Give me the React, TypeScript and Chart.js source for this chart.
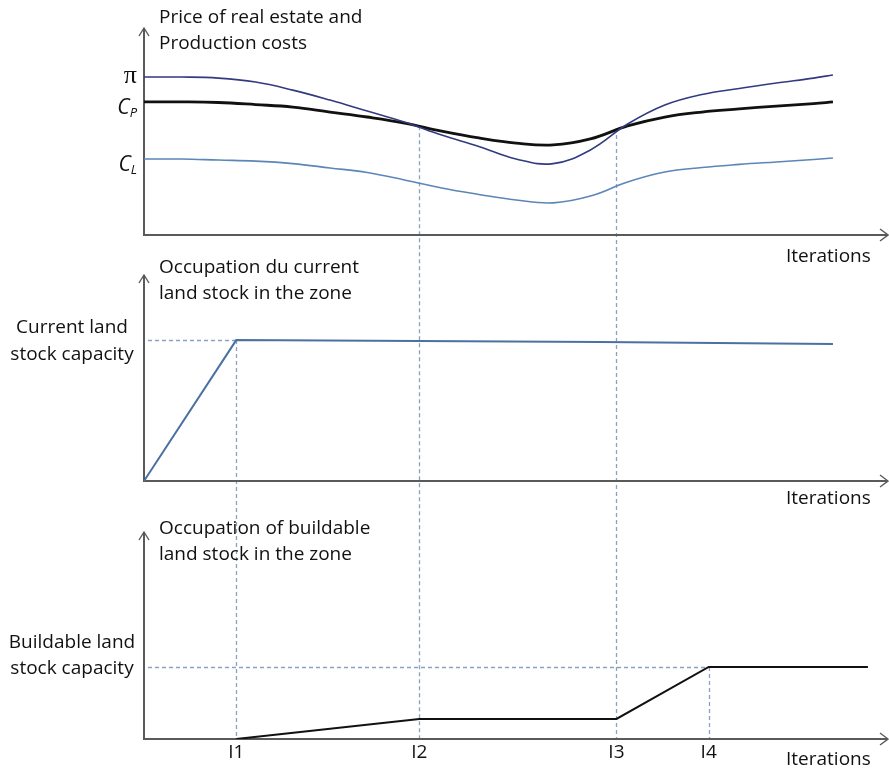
import React, { useEffect, useRef } from "react";
import { Chart, registerables } from "chart.js";
Chart.register(...registerables);

// x values: position along the "Iterations" axis (0–100)
const iterationLabels = ["I1", "I2", "I3", "I4"];
const iterationX = [12.4, 37.0, 63.5, 75.9];

// Panel 1: price of real estate (π), production cost (C_P), land cost (C_L)
const priceX = [0, 5, 10, 15, 20, 25, 30, 35, 40, 45, 50, 55, 60, 65, 70, 75, 80, 85, 90, 92.6];
const piY = [76.3, 76.3, 75.8, 73.9, 70.0, 65.2, 59.9, 54.6, 48.3, 42.8, 36.7, 34.5, 41.1, 53.6, 62.8, 67.9, 70.8, 73.4, 75.8, 77.3];
const cpY = [64.3, 64.3, 64.0, 63.0, 61.8, 59.4, 57.0, 54.1, 50.2, 46.9, 44.4, 43.5, 46.4, 52.7, 57.0, 59.4, 60.9, 62.3, 63.5, 64.3];
const clY = [36.7, 36.7, 36.2, 35.7, 34.5, 32.4, 30.2, 26.6, 22.7, 19.6, 16.9, 15.5, 18.8, 25.6, 30.4, 32.6, 34.1, 35.3, 36.5, 37.2];
const crossingValues = [52.5, 51.7]; // π = C_P at I2 and I3

// Panel 2: occupation of current land stock
const currentX = [0, 12.4, 61.3, 92.6];
const currentY = [0, 68.4, 67.5, 66.5];
const currentCapacity = 68.4;

// Panel 3: occupation of buildable land stock
const buildableX = [12.4, 37.0, 63.5, 75.9, 97.3];
const buildableY = [0, 9.7, 9.7, 34.8, 34.8];
const buildableCapacity = 34.8;

// ---- layout (pixels) ----
const W = 889;
const H = 768;
const AREA = { left: 144, right: 888, top: 28, bottom: 739 };
const BANDS: Record<string, [number, number]> = {
  yA: [28, 235],
  yB: [275, 481],
  yC: [532, 739],
};

function bandRange(top: number, bottom: number) {
  const unit = (bottom - top) / 100;
  return {
    min: -(AREA.bottom - bottom) / unit,
    max: 100 + (top - AREA.top) / unit,
  };
}

const FONT = '19px "Open Sans"';
const AXIS = "#5a5a5a";
const DASH = "#8aa2c0";

const pts = (xs: number[], ys: number[]) => xs.map((x, i) => ({ x, y: ys[i] }));

const schematicPlugin = {
  id: "schematic",
  beforeDatasetsDraw(chart: any) {
    const ctx = chart.ctx as CanvasRenderingContext2D;
    const x = chart.scales.x;
    const yA = chart.scales.yA;
    const yB = chart.scales.yB;
    const yC = chart.scales.yC;
    ctx.save();
    ctx.strokeStyle = DASH;
    ctx.lineWidth = 1.3;
    ctx.setLineDash([4, 3]);
    const vline = (xv: number, y0: number, y1: number) => {
      const px = Math.round(x.getPixelForValue(xv)) + 0.5;
      ctx.beginPath();
      ctx.moveTo(px, y0);
      ctx.lineTo(px, y1);
      ctx.stroke();
    };
    const hline = (py: number, x0: number, x1: number) => {
      const y = Math.round(py) + 0.5;
      ctx.beginPath();
      ctx.moveTo(x.getPixelForValue(x0) + 4, y);
      ctx.lineTo(x.getPixelForValue(x1), y);
      ctx.stroke();
    };
    const bottomC = yC.getPixelForValue(0);
    vline(iterationX[0], yB.getPixelForValue(currentCapacity), bottomC);
    vline(iterationX[1], yA.getPixelForValue(crossingValues[0]), bottomC);
    vline(iterationX[2], yA.getPixelForValue(crossingValues[1]), bottomC);
    vline(iterationX[3], yC.getPixelForValue(buildableCapacity), bottomC);
    hline(yB.getPixelForValue(currentCapacity), 0, iterationX[0]);
    hline(yC.getPixelForValue(buildableCapacity), 0, iterationX[3]);
    ctx.setLineDash([]);

    ctx.strokeStyle = AXIS;
    for (const s of [yA, yB, yC]) {
      const x0 = x.getPixelForValue(0);
      const xr = chart.chartArea.right;
      const yb = s.getPixelForValue(0);
      const yt = s.getPixelForValue(100);
      ctx.lineWidth = 2;
      ctx.beginPath();
      ctx.moveTo(x0, yt);
      ctx.lineTo(x0, yb);
      ctx.lineTo(xr, yb);
      ctx.stroke();
      ctx.lineWidth = 1.4;
      ctx.beginPath();
      ctx.moveTo(x0 - 5, yt + 8);
      ctx.lineTo(x0, yt);
      ctx.lineTo(x0 + 5, yt + 8);
      ctx.moveTo(xr - 8, yb - 6);
      ctx.lineTo(xr, yb);
      ctx.lineTo(xr - 8, yb + 6);
      ctx.stroke();
    }
    ctx.restore();
  },
  afterDraw(chart: any) {
    const ctx = chart.ctx as CanvasRenderingContext2D;
    const x = chart.scales.x;
    const yA = chart.scales.yA;
    const yB = chart.scales.yB;
    const yC = chart.scales.yC;
    ctx.save();
    ctx.fillStyle = "#111111";
    ctx.font = FONT;
    ctx.textBaseline = "alphabetic";
    ctx.textAlign = "left";
    const tx = x.getPixelForValue(0) + 15;
    ctx.fillText("Price of real estate and", tx, yA.getPixelForValue(100) - 5);
    ctx.fillText("Production costs", tx, yA.getPixelForValue(100) + 21);
    ctx.fillText("Occupation du current", tx, yB.getPixelForValue(100) - 2);
    ctx.fillText("land stock in the zone", tx, yB.getPixelForValue(100) + 24);
    ctx.fillText("Occupation of buildable", tx, yC.getPixelForValue(100) + 2);
    ctx.fillText("land stock in the zone", tx, yC.getPixelForValue(100) + 28);
    ctx.fillText("Iterations", 786, yA.getPixelForValue(0) + 27);
    ctx.fillText("Iterations", 786, yB.getPixelForValue(0) + 23);
    ctx.fillText("Iterations", 786, yC.getPixelForValue(0) + 26);
    ctx.textAlign = "center";
    iterationLabels.forEach((l, i) => {
      ctx.fillText(l, x.getPixelForValue(iterationX[i]), yC.getPixelForValue(0) + 19);
    });
    ctx.fillText("Current land", 72, yB.getPixelForValue(currentCapacity) - 7);
    ctx.fillText("stock capacity", 72, yB.getPixelForValue(currentCapacity) + 20);
    ctx.fillText("Buildable land", 72, yC.getPixelForValue(buildableCapacity) - 19);
    ctx.fillText("stock capacity", 72, yC.getPixelForValue(buildableCapacity) + 7);
    ctx.textAlign = "right";
    ctx.font = '26px "Liberation Serif"';
    ctx.fillText("π", 137, yA.getPixelForValue(piY[0]) + 6);
    const sub = (main: string, s: string, value: number) => {
      const base = yA.getPixelForValue(value) + 12;
      ctx.font = 'italic 13px "Open Sans"';
      ctx.textAlign = "right";
      ctx.fillText(s, 137, base + 3);
      const sw = ctx.measureText(s).width;
      ctx.font = 'italic 21px "Open Sans"';
      ctx.fillText(main, 137 - sw, base);
    };
    sub("C", "P", cpY[0]);
    sub("C", "L", clY[0]);
    ctx.restore();
  },
};

export default function App() {
  const ref = useRef<HTMLCanvasElement>(null);
  useEffect(() => {
    const rA = bandRange(...BANDS.yA);
    const rB = bandRange(...BANDS.yB);
    const rC = bandRange(...BANDS.yC);
    const curve = { pointRadius: 0, tension: 0.4, fill: false };
    const chart = new Chart(ref.current!, {
      type: "line",
      data: {
        datasets: [
          { label: "π", data: pts(priceX, piY), yAxisID: "yA", borderColor: "#323a80", borderWidth: 1.6, ...curve },
          { label: "C_P", data: pts(priceX, cpY), yAxisID: "yA", borderColor: "#111111", borderWidth: 2.8, ...curve },
          { label: "C_L", data: pts(priceX, clY), yAxisID: "yA", borderColor: "#5b86b8", borderWidth: 1.6, ...curve },
          { label: "Current", data: pts(currentX, currentY), yAxisID: "yB", borderColor: "#4b70a2", borderWidth: 2, pointRadius: 0, tension: 0 },
          { label: "Buildable", data: pts(buildableX, buildableY), yAxisID: "yC", borderColor: "#111111", borderWidth: 2, pointRadius: 0, tension: 0 },
        ],
      },
      options: {
        animation: false,
        responsive: false,
        events: [],
        layout: {
          padding: { left: AREA.left, right: W - AREA.right, top: AREA.top, bottom: H - AREA.bottom },
        },
        scales: {
          x: { type: "linear", min: 0, max: 100, display: false },
          yA: { type: "linear", min: rA.min, max: rA.max, display: false },
          yB: { type: "linear", min: rB.min, max: rB.max, display: false },
          yC: { type: "linear", min: rC.min, max: rC.max, display: false },
        },
        plugins: { legend: { display: false }, tooltip: { enabled: false } },
      },
      plugins: [schematicPlugin],
    });
    return () => chart.destroy();
  }, []);
  return (
    <div style={{ position: "absolute", left: 0, top: 0, width: W, height: H, background: "#fff" }}>
      <canvas ref={ref} width={W} height={H} style={{ display: "block" }} />
    </div>
  );
}
